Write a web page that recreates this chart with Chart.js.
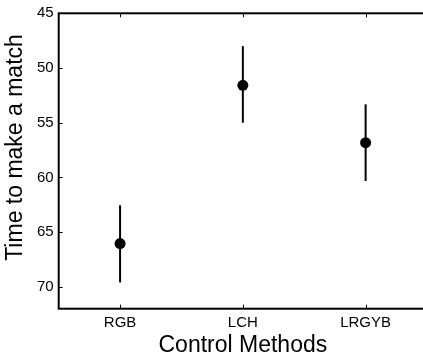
<!DOCTYPE html>
<html>
<head>
<meta charset="utf-8">
<script src="https://cdn.jsdelivr.net/npm/chart.js@4/dist/chart.umd.min.js"></script>
<style>
  html, body { margin: 0; padding: 0; background: #fff; overflow: hidden; }
  #wrap { width: 423px; height: 360px; overflow: hidden; position: relative; }
  canvas { display: block; }
</style>
</head>
<body>
<div id="wrap"><canvas id="c" width="427" height="360" style="width:427px;height:360px"></canvas></div>
<script>
const categories = ['RGB', 'LCH', 'LRGYB'];
const meanTime = [66.05, 51.58, 56.83];
const errLow = [62.54, 48.0, 53.32];
const errHigh = [69.6, 55.0, 60.33];
const yTickValues = [45, 50, 55, 60, 65, 70];
const yMin = 45, yMax = 72;
const xTitle = 'Control Methods';
const yTitle = 'Time to make a match';

const points = categories.map((c, i) => ({ x: i + 1, y: meanTime[i] }));

const boxPlugin = {
  id: 'boxAndErrors',
  beforeDatasetsDraw(chart) {
    const ctx = chart.ctx;
    const xs = chart.scales.x, ys = chart.scales.y;
    ctx.save();
    ctx.strokeStyle = '#000';
    ctx.lineWidth = 2;
    ctx.lineCap = 'butt';
    categories.forEach((c, i) => {
      const px = xs.getPixelForValue(i + 1);
      ctx.beginPath();
      ctx.moveTo(px, ys.getPixelForValue(errLow[i]));
      ctx.lineTo(px, ys.getPixelForValue(errHigh[i]));
      ctx.stroke();
    });
    ctx.restore();
  },
  afterDraw(chart) {
    const ctx = chart.ctx;
    const a = chart.chartArea;
    const xs = chart.scales.x, ys = chart.scales.y;
    ctx.save();
    ctx.strokeStyle = '#000';
    ctx.lineWidth = 2;
    ctx.strokeRect(a.left, a.top, a.right - a.left, a.bottom - a.top);
    ctx.lineWidth = 1;
    const tl = 4;
    ys.ticks.forEach(t => {
      const py = Math.round(ys.getPixelForValue(t.value)) + 0.5;
      ctx.beginPath();
      ctx.moveTo(a.left, py); ctx.lineTo(a.left + tl, py);
      ctx.moveTo(a.right, py); ctx.lineTo(a.right - tl, py);
      ctx.stroke();
    });
    xs.ticks.forEach(t => {
      const px = Math.round(xs.getPixelForValue(t.value)) + 0.5;
      ctx.beginPath();
      ctx.moveTo(px, a.bottom); ctx.lineTo(px, a.bottom - tl);
      ctx.moveTo(px, a.top); ctx.lineTo(px, a.top + tl);
      ctx.stroke();
    });
    // y-axis title
    ctx.fillStyle = '#000';
    ctx.font = '23px "Liberation Sans", Arial, sans-serif';
    ctx.textAlign = 'center';
    ctx.textBaseline = 'middle';
    ctx.translate(15.5, 147.5);
    ctx.rotate(-Math.PI / 2);
    ctx.fillText(yTitle, 0, 0);
    ctx.restore();
  }
};

new Chart(document.getElementById('c'), {
  type: 'scatter',
  data: {
    datasets: [{
      data: points,
      backgroundColor: '#000',
      borderColor: '#000',
      pointRadius: 5.5,
      pointHoverRadius: 5.5,
      borderWidth: 0
    }]
  },
  options: {
    responsive: false,
    maintainAspectRatio: false,
    animation: false,
    devicePixelRatio: 1,
    layout: { autoPadding: false, padding: { top: 13.3, left: 0, right: 0, bottom: 0 } },
    plugins: { legend: { display: false }, tooltip: { enabled: false } },
    scales: {
      x: {
        type: 'linear',
        min: 0.5, max: 3.5,
        grid: { display: false, drawTicks: false },
        border: { display: false },
        afterBuildTicks: (s) => { s.ticks = categories.map((c, i) => ({ value: i + 1 })); },
        afterFit: (s) => { s.height = 51.3; s.paddingLeft = 0; s.paddingRight = 0; },
        ticks: {
          color: '#000',
          padding: 5,
          maxRotation: 0,
          font: { family: 'Liberation Sans, Arial, sans-serif', size: 15 },
          callback: (v) => categories[Math.round(v) - 1] || ''
        },
        title: {
          display: true,
          text: xTitle,
          color: '#000',
          font: { family: 'Liberation Sans, Arial, sans-serif', size: 23 },
          padding: { top: 0, bottom: 1 }
        }
      },
      y: {
        type: 'linear',
        min: yMin, max: yMax,
        reverse: true,
        grid: { display: false, drawTicks: false },
        border: { display: false },
        afterBuildTicks: (s) => { s.ticks = yTickValues.map(v => ({ value: v })); },
        afterFit: (s) => { s.width = 58.7; s.paddingTop = 0; s.paddingBottom = 0; },
        ticks: {
          color: '#000',
          padding: 5,
          font: { family: 'Liberation Sans, Arial, sans-serif', size: 15 },
          callback: (v) => String(v)
        },
        title: { display: false }
      }
    }
  },
  plugins: [boxPlugin]
});
</script>
</body>
</html>
